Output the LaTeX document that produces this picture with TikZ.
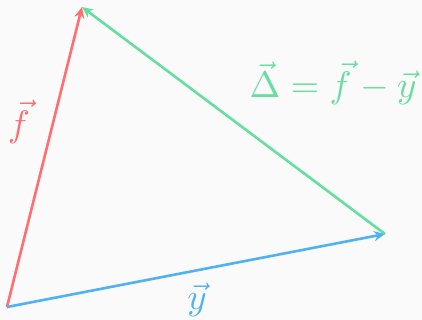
\documentclass[tikz,border=0pt]{standalone}
\usepackage{tikz}
\usetikzlibrary{arrows.meta}

\definecolor{bgcol}{RGB}{250,250,250}
\definecolor{fcol}{RGB}{255,110,112}
\definecolor{ycol}{RGB}{80,178,242}
\definecolor{dcol}{RGB}{102,222,160}

\begin{document}
\begin{tikzpicture}
[x=1pt,y=-1pt,vec/.style={line width=2.6pt,-{Stealth[length=11pt,width=10pt]}},lbl/.style={scale=3.7}]
\fill[bgcol] (0,0) rectangle (422,320);
\useasboundingbox (0,0) rectangle (422,320);
\coordinate (o) at (7,307);
\coordinate (f) at (82,7);
\coordinate (y) at (385,234);
\draw[vec,fcol] (o) to (f);
\draw[vec,ycol] (o) to (y);
\draw[vec,dcol] (y) to (f);
\node[lbl,fcol] (flbl) at (19,122) {$\vec{f}$};
\node[lbl,ycol] (ylbl) at (197,300) {$\vec{y}$};
\node[lbl,dcol] (dlbl) at (333,83) {$\vec{\Delta}=\vec{f}-\vec{y}$};
\end{tikzpicture}
\end{document}
